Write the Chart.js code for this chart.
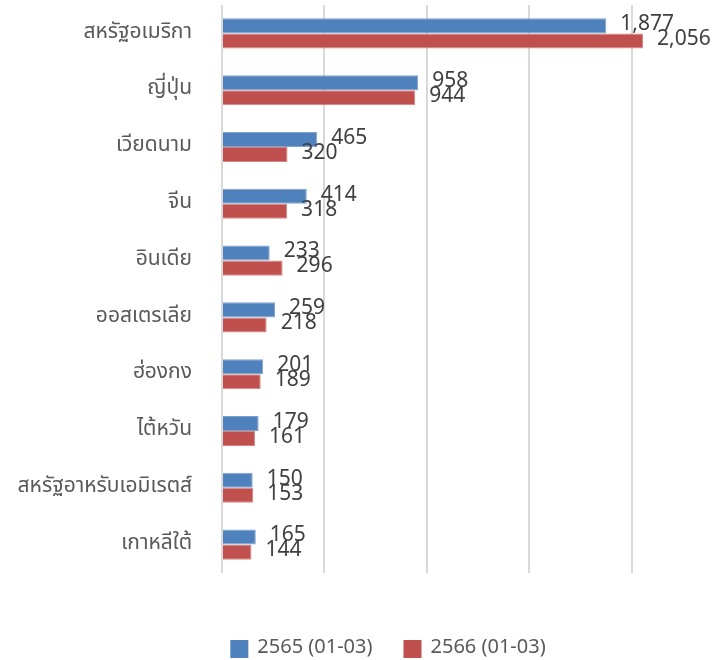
<!DOCTYPE html>
<html>
<head>
<meta charset="utf-8">
<script src="https://cdn.jsdelivr.net/npm/chart.js@4.4.0/dist/chart.umd.min.js"></script>
<style>
html,body{margin:0;padding:0;background:#fff;}
#wrap{width:724px;height:660px;}
</style>
</head>
<body>
<div id="wrap"><canvas id="c" width="724" height="660"></canvas></div>
<script>
const categories = ["สหรัฐอเมริกา","ญี่ปุ่น","เวียดนาม","จีน","อินเดีย","ออสเตรเลีย","ฮ่องกง","ไต้หวัน","สหรัฐอาหรับเอมิเรตส์","เกาหลีใต้"];
const series2565 = [1877,958,465,414,233,259,201,179,150,165];
const series2566 = [2056,944,320,318,296,218,189,161,153,144];
const seriesNames = ["2565 (01-03)","2566 (01-03)"];
const seriesColors = ['#4F81BD','#C0504D'];
const xTickValues = [0,500,1000,1500,2000];

const FONT = "'Noto Sans Thai','Noto Sans','Tahoma',sans-serif";

const valueLabels = {
  id:'valueLabels',
  afterDatasetsDraw(chart){
    const ctx = chart.ctx;
    ctx.save();
    ctx.font = "21px " + FONT;
    ctx.fillStyle = "#404040";
    ctx.textAlign = "left";
    ctx.textBaseline = "middle";
    chart.data.datasets.forEach((ds,i)=>{
      const meta = chart.getDatasetMeta(i);
      meta.data.forEach((el,j)=>{
        ctx.fillText(ds.data[j].toLocaleString('en-US'), el.x + 14, el.y);
      });
    });
    ctx.restore();
  }
};

const bottomLegend = {
  id:'bottomLegend',
  afterDraw(chart){
    const ctx = chart.ctx;
    ctx.save();
    ctx.font = "20px " + FONT;
    ctx.textBaseline = "middle";
    ctx.textAlign = "left";
    const box = 18, gapText = 9, gapItem = 31;
    const widths = chart.data.datasets.map(d=>ctx.measureText(d.label).width);
    let total = 0;
    widths.forEach((w,i)=>{ total += box + gapText + w + (i<widths.length-1?gapItem:0); });
    let x = 388 - total/2;
    const yc = 649;
    chart.data.datasets.forEach((d,i)=>{
      ctx.fillStyle = d.backgroundColor;
      ctx.fillRect(x, yc - box/2, box, box);
      ctx.fillStyle = '#595959';
      ctx.fillText(d.label, x + box + gapText, yc);
      x += box + gapText + widths[i] + gapItem;
    });
    ctx.restore();
  }
};

new Chart(document.getElementById('c'),{
  type:'bar',
  data:{
    labels:categories,
    datasets:[
      {label:seriesNames[0],data:series2565,backgroundColor:seriesColors[0],borderColor:'#7FA3D0',borderWidth:1,categoryPercentage:0.53,barPercentage:1},
      {label:seriesNames[1],data:series2566,backgroundColor:seriesColors[1],borderColor:'#D68583',borderWidth:1,categoryPercentage:0.53,barPercentage:1}
    ]
  },
  options:{
    indexAxis:'y',
    responsive:false,
    animation:false,
    layout:{padding:{left:0,right:72,top:5,bottom:87}},
    scales:{
      x:{
        min:0,max:2100,
        ticks:{display:false},
        grid:{color:'#D9D9D9',lineWidth:2,drawTicks:false},
        border:{display:false},
        afterBuildTicks(s){ s.ticks = xTickValues.map(v=>({value:v})); }
      },
      y:{
        ticks:{color:'#595959',font:{size:21,family:FONT},padding:22},
        grid:{display:false},
        border:{display:false},
        afterFit(s){ s.width=222; s.paddingTop=0; s.paddingBottom=0; }
      }
    },
    plugins:{
      legend:{display:false},
      tooltip:{enabled:false}
    }
  },
  plugins:[valueLabels,bottomLegend]
});
</script>
</body>
</html>
